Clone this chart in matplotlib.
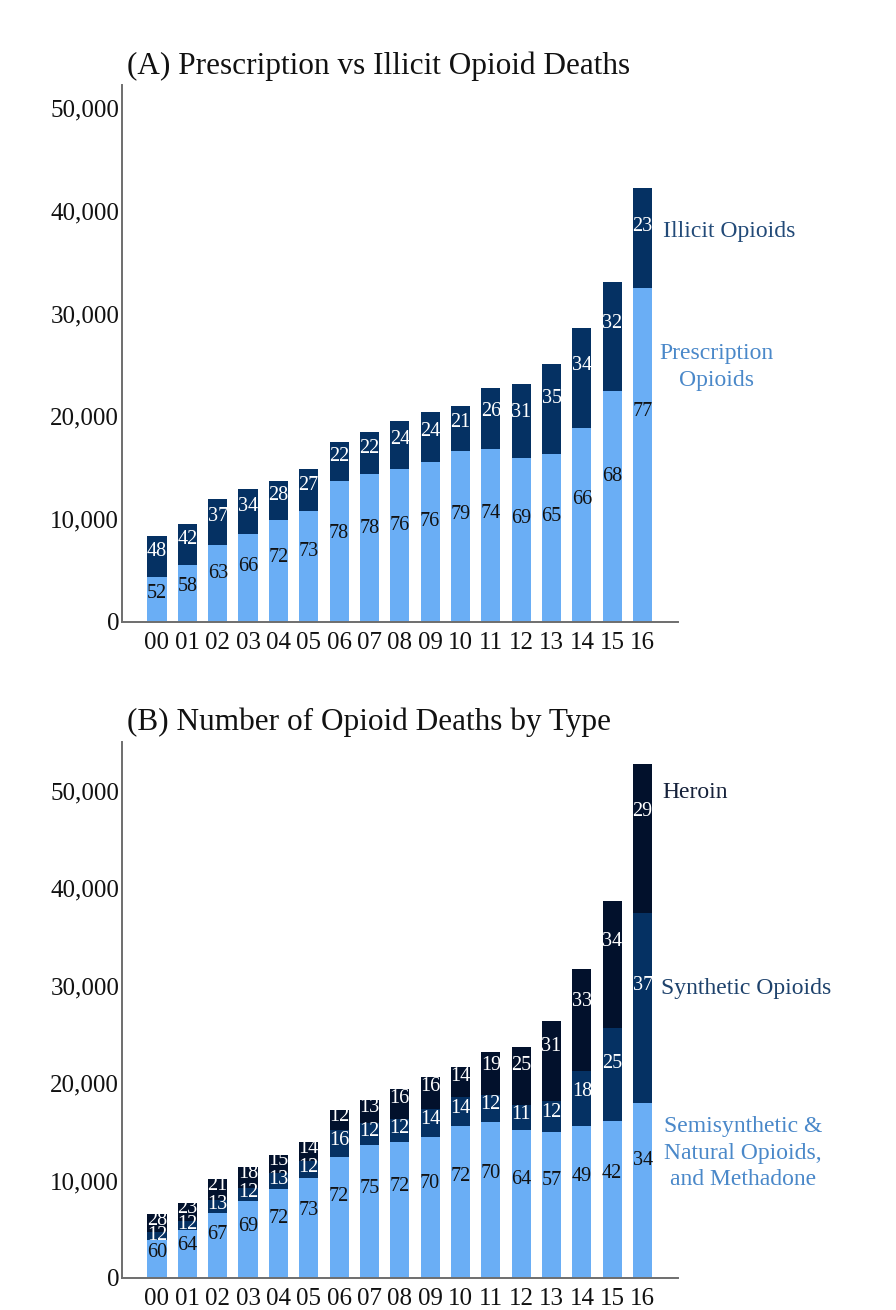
import matplotlib
matplotlib.use("Agg")
import matplotlib.pyplot as plt
import numpy as np
from matplotlib.ticker import FuncFormatter, MultipleLocator

plt.rcParams["font.family"] = ["Liberation Serif", "DejaVu Serif"]

# ---- data -------------------------------------------------------------
years = ["00", "01", "02", "03", "04", "05", "06", "07", "08", "09",
         "10", "11", "12", "13", "14", "15", "16"]

# Panel A: total opioid deaths and percentage split
totals_a = [8370, 9500, 11930, 12900, 13750, 14850, 17540, 18450, 19550,
            20430, 21040, 22730, 23120, 25070, 28600, 33070, 42200]
pct_prescription = [52, 58, 63, 66, 72, 73, 78, 78, 76, 76, 79, 74, 69, 65, 66, 68, 77]
pct_illicit = [48, 42, 37, 34, 28, 27, 22, 22, 24, 24, 21, 26, 31, 35, 34, 32, 23]

# Panel B: deaths by opioid type and percentage split
totals_b = [6520, 7660, 10130, 11350, 12640, 13960, 17240, 18270, 19380,
            20670, 21630, 23180, 23690, 26340, 31760, 38690, 52800]
pct_semi = [60, 64, 67, 69, 72, 73, 72, 75, 72, 70, 72, 70, 64, 57, 49, 42, 34]
pct_synth = [12, 12, 13, 12, 13, 12, 16, 12, 12, 14, 14, 12, 11, 12, 18, 25, 37]
pct_heroin = [28, 23, 21, 18, 15, 14, 12, 13, 16, 16, 14, 19, 25, 31, 33, 34, 29]

# ---- style ------------------------------------------------------------
LIGHT = "#6aaef5"
NAVY = "#053163"
BLACKNAVY = "#02112c"
SPINE = "#6e6e6e"

fig = plt.figure(figsize=(8.96, 13.1), dpi=100)

x = np.arange(len(years))
bar_w = 0.63


def stacked(ax, totals, pcts, colors, txt_colors, fracs):
    totals = np.asarray(totals, dtype=float)
    pcts = [np.asarray(p, dtype=float) for p in pcts]
    share = np.sum(pcts, axis=0)
    base = np.zeros_like(totals)
    for p, c, tc, fr in zip(pcts, colors, txt_colors, fracs):
        h = totals * p / share
        ax.bar(x, h, bar_w, bottom=base, color=c, linewidth=0)
        for xi, b, hi, pv in zip(x, base, h, p):
            ax.text(xi, b + fr * hi, f"{int(pv)}", ha="center", va="center",
                    color=tc, fontsize=14.5)
        base = base + h


XL, XR = -1.153, 17.17


def style_axes(ax, ymax):
    ax.set_xlim(XL, XR)
    ax.set_ylim(0, ymax)
    ax.yaxis.set_major_locator(MultipleLocator(10000))
    ax.yaxis.set_major_formatter(FuncFormatter(lambda v, _: f"{v:,.0f}"))
    ax.set_xticks(x)
    ax.set_xticklabels(years)
    ax.tick_params(axis="both", length=0, labelsize=18, colors="#111111")
    ax.tick_params(axis="y", pad=2)
    ax.tick_params(axis="x", pad=7)
    for s in ("top", "right"):
        ax.spines[s].set_visible(False)
    for s in ("left", "bottom"):
        ax.spines[s].set_color(SPINE)
        ax.spines[s].set_linewidth(1.4)


px = 30.35  # pixels per bar slot
left = 122 / 896
width = (XR - XL) * px / 896

# ---- panel A ----------------------------------------------------------
ax1 = fig.add_axes([left, 1 - 622 / 1310, width, (622 - 85) / 1310])
stacked(ax1, totals_a, [pct_prescription, pct_illicit], [LIGHT, NAVY],
        ["#111111", "white"], [0.63, 0.62])
style_axes(ax1, 52240)
ax1.text(16.66, 37940, "Illicit Opioids", color="#224a78", fontsize=17,
         ha="left", va="center")
ax1.text(18.42, 24800, "Prescription\nOpioids", color="#4a88c9", fontsize=17,
         ha="center", va="center", multialignment="center", linespacing=1.35)
fig.text(127 / 896, 1 - 66 / 1310, "(A) Prescription vs Illicit Opioid Deaths",
         fontsize=22.5, ha="left", va="center", color="#111111")

# ---- panel B ----------------------------------------------------------
ax2 = fig.add_axes([left, 1 - 1278 / 1310, width, (1278 - 742) / 1310])
stacked(ax2, totals_b, [pct_semi, pct_synth, pct_heroin], [LIGHT, NAVY, BLACKNAVY],
        ["#111111", "white", "white"], [0.67, 0.62, 0.68])
style_axes(ax2, 55030)
ax2.text(16.66, 49800, "Heroin", color="#15213a", fontsize=17,
         ha="left", va="center")
ax2.text(16.6, 29770, "Synthetic Opioids", color="#1e426c", fontsize=17,
         ha="left", va="center")
ax2.text(19.3, 12830, "Semisynthetic &\nNatural Opioids,\nand Methadone",
         color="#4a88c9", fontsize=17, ha="center", va="center",
         multialignment="center", linespacing=1.35)
fig.text(127 / 896, 1 - 722 / 1310, "(B) Number of Opioid Deaths by Type",
         fontsize=22.5, ha="left", va="center", color="#111111")

fig.savefig("out.png", dpi=100, facecolor="white")
